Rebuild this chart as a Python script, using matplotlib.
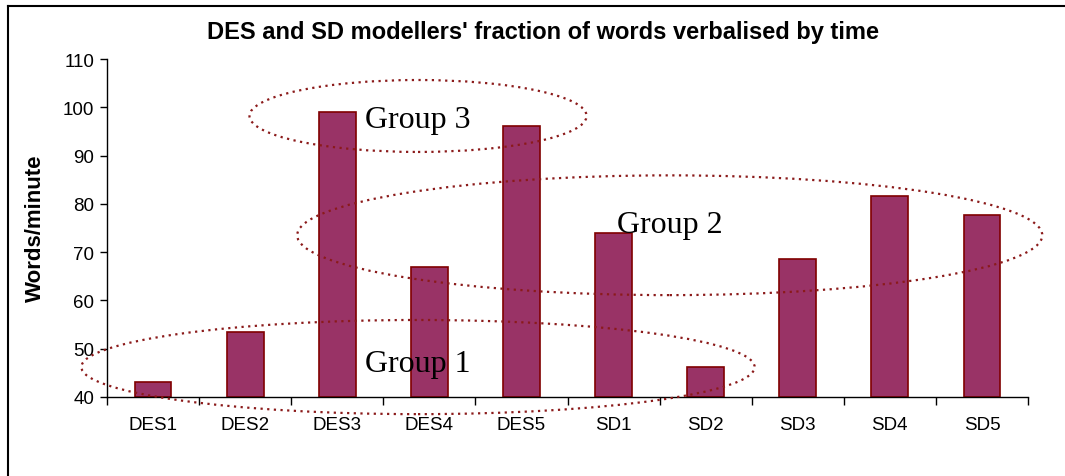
import matplotlib
matplotlib.use("Agg")
import matplotlib.pyplot as plt
from matplotlib.patches import Ellipse
from matplotlib.lines import Line2D

categories = ["DES1", "DES2", "DES3", "DES4", "DES5", "SD1", "SD2", "SD3", "SD4", "SD5"]
words_per_minute = [43.1, 53.4, 99.0, 66.9, 96.1, 73.9, 46.2, 68.6, 81.7, 77.6]
y_ticks = [40, 50, 60, 70, 80, 90, 100, 110]
group_labels = ["Group 1", "Group 2", "Group 3"]

plt.rcParams['font.family'] = ['Liberation Sans', 'DejaVu Sans']

fig = plt.figure(figsize=(10.65, 4.77), dpi=100)
fig.patch.set_facecolor("white")

# figure frame (top and left border lines)
fig.add_artist(Line2D([8/1065, 1.0], [1 - 7/477, 1 - 7/477], transform=fig.transFigure,
                      color="black", lw=1.5))
fig.add_artist(Line2D([8/1065, 8/1065], [0.0, 1 - 7/477], transform=fig.transFigure,
                      color="black", lw=1.5))

ax = fig.add_axes([107/1065, 1 - 398/477, (1028 - 107)/1065, (398 - 60)/477])
x = list(range(len(categories)))
ax.bar(x, [v - 40 for v in words_per_minute], bottom=40, width=0.4,
       color="#993366", edgecolor="#800000", linewidth=1.2, zorder=2)

ax.set_xlim(-0.5, len(categories) - 0.5)
ax.set_ylim(40, 110)
ax.set_yticks(y_ticks)
ax.set_yticklabels([str(t) for t in y_ticks], fontsize=13.5)
ax.set_xticks(x)
ax.set_xticklabels(categories, fontsize=13.5)
ax.tick_params(axis='x', length=0, pad=14)
ax.set_xticks([i - 0.5 for i in range(len(categories) + 1)], minor=True)
ax.tick_params(axis='x', which='minor', length=6, direction='out', width=1)
ax.tick_params(axis='y', length=5, direction='out', width=1, pad=4)

for s in ["top", "right"]:
    ax.spines[s].set_visible(False)
ax.spines["left"].set_linewidth(1)
ax.spines["bottom"].set_linewidth(1)

fig.text(35/1065, 1 - 228.5/477, "Words/minute", rotation=90, ha="center", va="center",
         fontsize=16, fontweight="bold")

fig.text(543/1065, 1 - 33/477, "DES and SD modellers' fraction of words verbalised by time",
         ha="center", va="center", fontsize=17, fontweight="bold")

ell_color = "#8B1A1A"
ellipses = [
    (2.877, 46.2, 7.31, 19.5),
    (5.61, 73.5, 8.09, 24.8),
    (2.877, 98.2, 3.66, 14.9),
]
for cx, cy, w, h in ellipses:
    e = Ellipse((cx, cy), w, h, fill=False, edgecolor=ell_color, linestyle=(0, (1, 2)),
                linewidth=1.6, clip_on=False, zorder=3)
    ax.add_patch(e)

label_pos = [(2.301, 45.4), (5.037, 74.2), (2.301, 95.9)]
for (lx, ly), lab in zip(label_pos, group_labels):
    ax.text(lx, ly, lab, ha="left", va="baseline", fontsize=23,
            family=["Liberation Serif", "DejaVu Serif"], zorder=4, clip_on=False)

fig.savefig("out.png", dpi=100, facecolor="white")
